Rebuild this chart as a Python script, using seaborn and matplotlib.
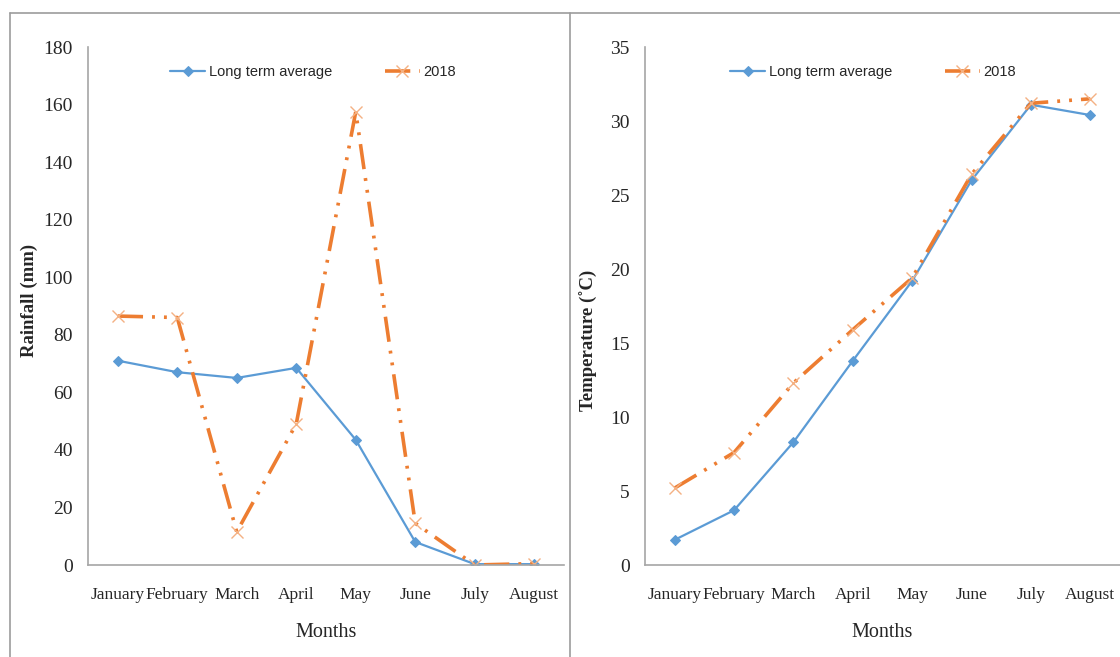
import matplotlib
matplotlib.use("Agg")
import matplotlib.pyplot as plt
from matplotlib.lines import Line2D
from matplotlib import font_manager
import seaborn as sns
import pandas as pd

months = ["January", "February", "March", "April", "May", "June", "July", "August"]
series_names = ["Long term average", "2018"]

rain_long_term = [71.0, 67.0, 65.0, 68.5, 43.5, 8.0, 0.3, 0.3]
rain_2018 = [86.5, 86.0, 11.5, 49.0, 157.5, 14.5, 0.0, 0.5]

temp_long_term = [1.7, 3.7, 8.3, 13.8, 19.2, 26.0, 31.1, 30.4]
temp_2018 = [5.2, 7.6, 12.3, 15.9, 19.4, 26.4, 31.2, 31.5]

rain_ticks = list(range(0, 181, 20))
temp_ticks = list(range(0, 36, 5))

sns.set_theme(style="white")
installed = {f.name for f in font_manager.fontManager.ttflist}
serif = "Liberation Serif" if "Liberation Serif" in installed else "DejaVu Serif"
legend_font = "Liberation Sans Narrow" if "Liberation Sans Narrow" in installed else "Liberation Sans"
plt.rcParams["font.family"] = [serif, "DejaVu Sans"]

BLUE = "#5B9BD5"
ORANGE = "#ED7D31"
AXIS_GREY = "#A6A6A6"

fig = plt.figure(figsize=(11.2, 6.57), dpi=100)

# outer frame lines
for xs, ys in [((10 / 1120, 1.0), (1 - 13 / 657, 1 - 13 / 657)),
               ((10 / 1120, 10 / 1120), (0.0, 1 - 13 / 657)),
               ((570 / 1120, 570 / 1120), (0.0, 1 - 13 / 657))]:
    fig.add_artist(Line2D(xs, ys, color="#9C9C9C", lw=1.2, transform=fig.transFigure))

ax1 = fig.add_axes([88 / 1120, 92 / 657, 476 / 1120, 518 / 657])
ax2 = fig.add_axes([645 / 1120, 92 / 657, 475 / 1120, 518 / 657])


def frame(values_a, values_b):
    return pd.DataFrame({
        "Month": months * 2,
        "Series": [series_names[0]] * len(months) + [series_names[1]] * len(months),
        "Value": list(values_a) + list(values_b),
    })


def draw(ax, df, ticks, ylabel, label_pos, legend_x):
    sns.lineplot(data=df[df["Series"] == series_names[0]], x="Month", y="Value",
                 ax=ax, color=BLUE, lw=1.6, marker="D", markersize=5.5,
                 markeredgecolor=BLUE, label=series_names[0], sort=False)
    sns.lineplot(data=df[df["Series"] == series_names[1]], x="Month", y="Value",
                 ax=ax, color=ORANGE, lw=2.6, linestyle=(0, (7, 2.5, 0.8, 2.5, 0.8, 2.5)),
                 marker="x", markersize=8, markeredgewidth=1.0,
                 markeredgecolor="#F4B183", label=series_names[1], sort=False)
    ax.set_xlim(-0.5, len(months) - 0.5)
    ax.set_ylim(ticks[0], ticks[-1])
    ax.set_yticks(ticks)
    ax.set_yticklabels([str(t) for t in ticks], fontsize=14)
    ax.set_xticks(range(len(months)))
    ax.set_xticklabels(months, fontsize=12.5)
    ax.set_xticks([i - 0.5 for i in range(len(months) + 1)], minor=True)
    ax.tick_params(axis="x", which="major", length=0, pad=16)
    ax.tick_params(axis="x", which="minor", length=6, width=1, color=AXIS_GREY, direction="out")
    ax.tick_params(axis="y", length=5, width=1, color=AXIS_GREY, direction="out", pad=6)
    for s in ["top", "right"]:
        ax.spines[s].set_visible(False)
    for s in ["left", "bottom"]:
        ax.spines[s].set_color(AXIS_GREY)
        ax.spines[s].set_linewidth(1.2)
    ax.set_xlabel("Months", fontsize=14.5, labelpad=14)
    ax.set_ylabel(ylabel, fontsize=13.5, fontweight="bold")
    ax.yaxis.set_label_coords(label_pos[0], label_pos[1])
    ax.grid(False)
    handles = ax.get_lines()[:2]
    ax.legend(handles, series_names, ncol=2, frameon=False, loc="upper left",
              bbox_to_anchor=(legend_x, 0.99), columnspacing=3.6, handlelength=2.4,
              handletextpad=0.25, prop={"family": legend_font, "size": 10.5})


draw(ax1, frame(rain_long_term, rain_2018), rain_ticks, "Rainfall (mm)", (-0.105, 0.51), 0.145)
draw(ax2, frame(temp_long_term, temp_2018), temp_ticks, "Temperature (˚C)", (-0.098, 0.434), 0.152)

fig.savefig("out.png", dpi=100)
